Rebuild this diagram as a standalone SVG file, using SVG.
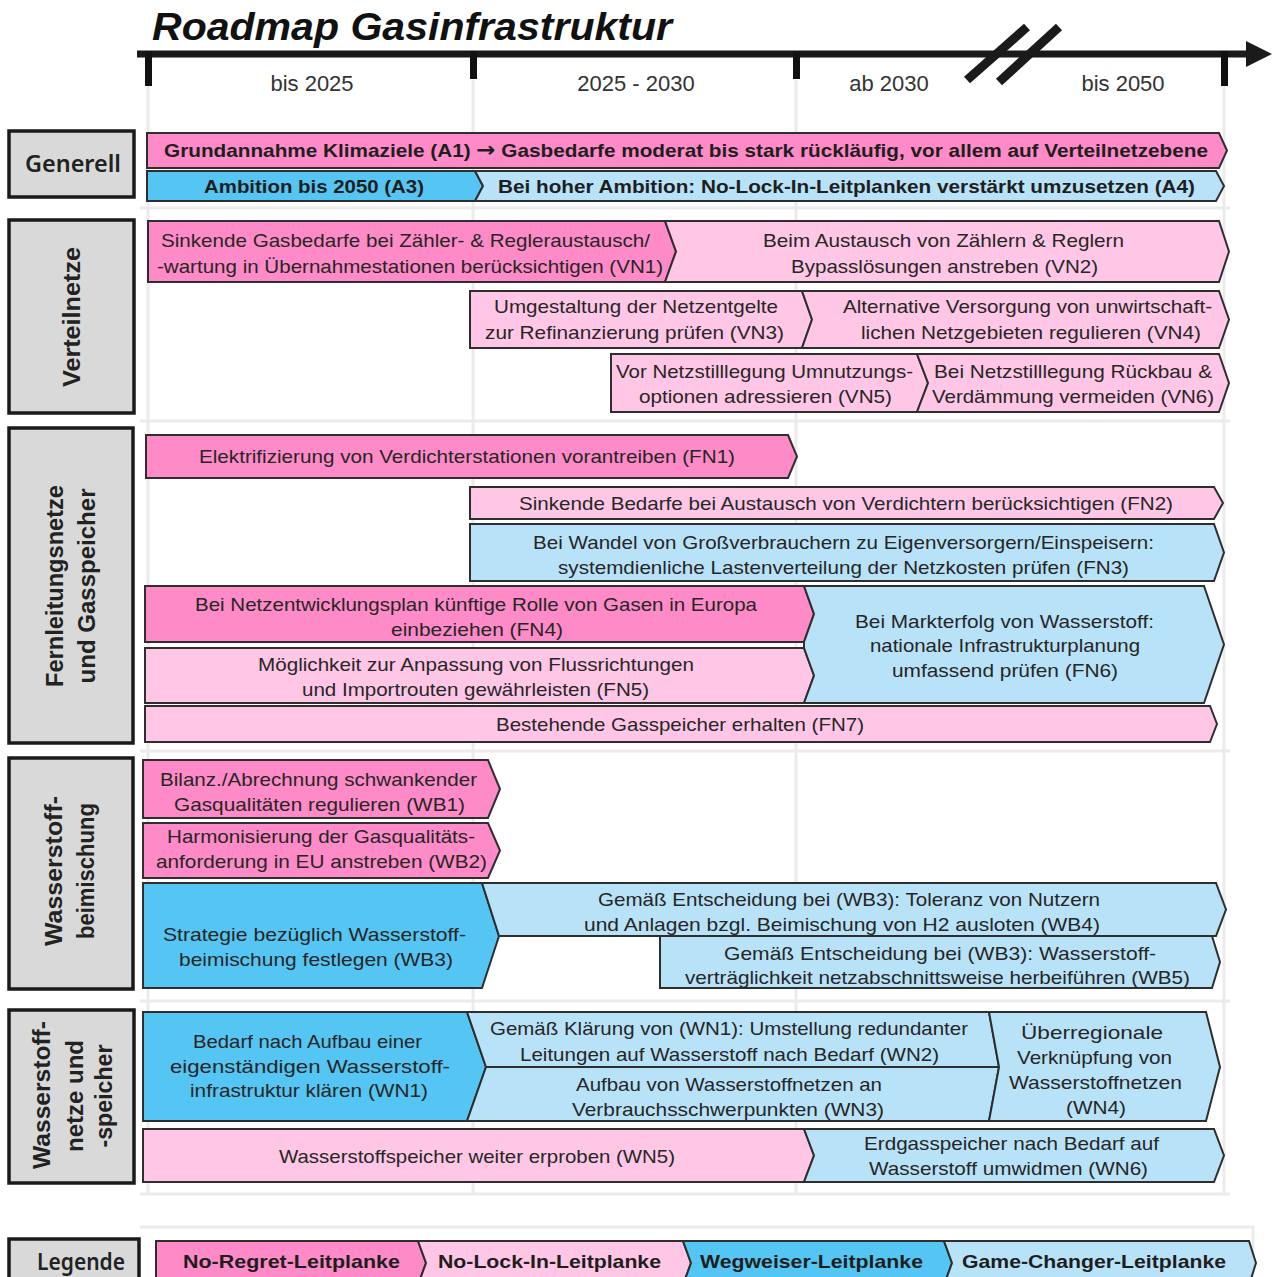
<svg xmlns="http://www.w3.org/2000/svg" width="1272" height="1277" viewBox="0 0 1272 1277">
<style>
.bar{stroke:#2e2e2e;stroke-width:2;stroke-linejoin:miter}
.nr{fill:#FF8AC8}
.nl{fill:#FFC6E6}
.ww{fill:#55C5F3}
.gc{fill:#B8E2F8}
.t{font-family:"Liberation Sans",Arial,sans-serif;font-size:19px;fill:#262626}
.tb{font-family:"Liberation Sans",Arial,sans-serif;font-size:19px;font-weight:bold;fill:#1e1e1e}
.lb{fill:#d9d9d9;stroke:#1a1a1a;stroke-width:3.5}
.lt{font-family:"Liberation Sans",Arial,sans-serif;font-size:24px;font-weight:bold;fill:#222}
.lh{font-family:"Noto Sans","Open Sans",sans-serif;font-size:23px;font-weight:600;fill:#222}
.col{font-family:"Liberation Sans",Arial,sans-serif;font-size:22px;fill:#333}
.grid{stroke:#ebebeb;stroke-width:3;fill:none}
</style>
<rect width="1272" height="1277" fill="#ffffff"/>
<g id="grid">
<path class="grid" d="M148 86V1195M473 80V1195M796 80V1195M1224 86V1195"/>
<path class="grid" d="M140 208H1230M140 421H1230M140 751H1230M140 1001H1230M140 1194H1230"/>
<path class="grid" d="M140 1227H1253V1277"/>
</g>
<g id="timeline">
<text x="152" y="40" font-family="Liberation Sans,Arial,sans-serif" font-size="38" font-weight="bold" font-style="italic" fill="#111" textLength="520" lengthAdjust="spacingAndGlyphs">Roadmap Gasinfrastruktur</text>
<line x1="137" y1="54" x2="1252" y2="54" stroke="#1a1a1a" stroke-width="7"/>
<polygon points="1246,41 1272,54 1246,67" fill="#1a1a1a"/>
<rect x="145" y="51" width="7" height="35" fill="#111"/>
<rect x="470" y="51" width="7" height="28" fill="#111"/>
<rect x="793" y="51" width="7" height="28" fill="#111"/>
<rect x="1221" y="51" width="7" height="35" fill="#111"/>
<line x1="967" y1="80" x2="1027" y2="27" stroke="#1a1a1a" stroke-width="9"/>
<line x1="999" y1="82" x2="1059" y2="27" stroke="#1a1a1a" stroke-width="9"/>
<text class="col" x="312" y="91" text-anchor="middle">bis 2025</text>
<text class="col" x="636" y="91" text-anchor="middle">2025 - 2030</text>
<text class="col" x="889" y="91" text-anchor="middle">ab 2030</text>
<text class="col" x="1123" y="91" text-anchor="middle">bis 2050</text>
</g>
<g id="label-generell"><rect class="lb" x="9" y="131" width="125" height="66"/><text class="lh" x="73" y="172" text-anchor="middle" textLength="96" lengthAdjust="spacingAndGlyphs">Generell</text></g>
<g id="label-verteilnetze"><rect class="lb" x="9" y="220" width="125" height="193"/><text class="lt" transform="translate(80,317) rotate(-90)" text-anchor="middle" textLength="140" lengthAdjust="spacingAndGlyphs">Verteilnetze</text></g>
<g id="label-fernleitung"><rect class="lb" x="9" y="428" width="124" height="315"/><text class="lt" transform="translate(63,586) rotate(-90)" text-anchor="middle" textLength="202" lengthAdjust="spacingAndGlyphs">Fernleitungsnetze</text><text class="lt" transform="translate(95,586) rotate(-90)" text-anchor="middle" textLength="195" lengthAdjust="spacingAndGlyphs">und Gasspeicher</text></g>
<g id="label-beimischung"><rect class="lb" x="9" y="758" width="124" height="231"/><text class="lt" transform="translate(62,871) rotate(-90)" text-anchor="middle" textLength="150" lengthAdjust="spacingAndGlyphs">Wasserstoff-</text><text class="lt" transform="translate(94,871) rotate(-90)" text-anchor="middle" textLength="136" lengthAdjust="spacingAndGlyphs">beimischung</text></g>
<g id="label-h2netze"><rect class="lb" x="9" y="1010" width="125" height="173"/><text class="lt" transform="translate(50,1095) rotate(-90)" text-anchor="middle" textLength="148" lengthAdjust="spacingAndGlyphs">Wasserstoff-</text><text class="lt" transform="translate(83,1096) rotate(-90)" text-anchor="middle" textLength="112" lengthAdjust="spacingAndGlyphs">netze und</text><text class="lt" transform="translate(112,1096) rotate(-90)" text-anchor="middle" textLength="103" lengthAdjust="spacingAndGlyphs">-speicher</text></g>
<g id="A1"><polygon class="bar nr" points="147,133 1219,133 1227,150.5 1219,168 147,168"/><text class="tb" x="164" y="157" textLength="1044" lengthAdjust="spacingAndGlyphs">Grundannahme Klimaziele (A1) <tspan font-family="DejaVu Sans,sans-serif" font-size="21">→</tspan> Gasbedarfe moderat bis stark rückläufig, vor allem auf Verteilnetzebene</text></g>
<g id="A3"><polygon class="bar ww" points="147,171 475,171 483,186 475,201 147,201"/><text class="tb" x="204" y="193" textLength="220" lengthAdjust="spacingAndGlyphs">Ambition bis 2050 (A3)</text></g>
<g id="A4"><polygon class="bar gc" points="475,171 1216,171 1224,186 1216,201 475,201 483,186"/><text class="tb" x="498" y="193" textLength="697" lengthAdjust="spacingAndGlyphs">Bei hoher Ambition: No-Lock-In-Leitplanken verstärkt umzusetzen (A4)</text></g>
<g id="VN1"><polygon class="bar nr" points="148,221 665,221 676,251.5 665,282 148,282"/><text class="t" x="161" y="247" textLength="489" lengthAdjust="spacingAndGlyphs">Sinkende Gasbedarfe bei Zähler- &amp; Regleraustausch/</text><text class="t" x="157" y="273" textLength="506" lengthAdjust="spacingAndGlyphs">-wartung  in Übernahmestationen berücksichtigen (VN1)</text></g>
<g id="VN2"><polygon class="bar nl" points="665,221 1219,221 1229,251.5 1219,282 665,282 676,251.5"/><text class="t" x="763" y="247" textLength="361" lengthAdjust="spacingAndGlyphs">Beim Austausch von Zählern &amp; Reglern</text><text class="t" x="791" y="273" textLength="307" lengthAdjust="spacingAndGlyphs">Bypasslösungen anstreben (VN2)</text></g>
<g id="VN3"><polygon class="bar nl" points="470,291 802,291 812,319.5 802,348 470,348"/><text class="t" x="494" y="313" textLength="284" lengthAdjust="spacingAndGlyphs">Umgestaltung der Netzentgelte</text><text class="t" x="485" y="339" textLength="299" lengthAdjust="spacingAndGlyphs">zur Refinanzierung prüfen (VN3)</text></g>
<g id="VN4"><polygon class="bar nl" points="802,291 1219,291 1229,319.5 1219,348 802,348 812,319.5"/><text class="t" x="843" y="313" textLength="369" lengthAdjust="spacingAndGlyphs">Alternative Versorgung von unwirtschaft-</text><text class="t" x="861" y="339" textLength="340" lengthAdjust="spacingAndGlyphs">lichen Netzgebieten regulieren (VN4)</text></g>
<g id="VN5"><polygon class="bar nl" points="611,354 917,354 928,383 917,412 611,412"/><text class="t" x="616" y="378" textLength="297" lengthAdjust="spacingAndGlyphs">Vor Netzstilllegung Umnutzungs-</text><text class="t" x="639" y="403" textLength="253" lengthAdjust="spacingAndGlyphs">optionen adressieren (VN5)</text></g>
<g id="VN6"><polygon class="bar nl" points="917,354 1219,354 1229,383 1219,412 917,412 928,383"/><text class="t" x="934" y="378" textLength="278" lengthAdjust="spacingAndGlyphs">Bei Netzstilllegung Rückbau &amp;</text><text class="t" x="932" y="403" textLength="282" lengthAdjust="spacingAndGlyphs">Verdämmung vermeiden (VN6)</text></g>
<g id="FN1"><polygon class="bar nr" points="146,435 788,435 797,456.5 788,478 146,478"/><text class="t" x="199" y="463" textLength="536" lengthAdjust="spacingAndGlyphs">Elektrifizierung von Verdichterstationen vorantreiben (FN1)</text></g>
<g id="FN2"><polygon class="bar nl" points="470,487 1214,487 1223,503 1214,519 470,519"/><text class="t" x="519" y="510" textLength="654" lengthAdjust="spacingAndGlyphs">Sinkende Bedarfe bei Austausch von Verdichtern berücksichtigen (FN2)</text></g>
<g id="FN3"><polygon class="bar gc" points="470,524 1214,524 1224,552.5 1214,581 470,581"/><text class="t" x="533" y="549" textLength="621" lengthAdjust="spacingAndGlyphs">Bei Wandel von Großverbrauchern zu Eigenversorgern/Einspeisern:</text><text class="t" x="558" y="574" textLength="571" lengthAdjust="spacingAndGlyphs">systemdienliche Lastenverteilung der Netzkosten prüfen (FN3)</text></g>
<g id="FN4"><polygon class="bar nr" points="145,586 804,586 814,614 804,642 145,642"/><text class="t" x="195" y="611" textLength="562" lengthAdjust="spacingAndGlyphs">Bei Netzentwicklungsplan  künftige Rolle von Gasen in Europa</text><text class="t" x="391" y="636" textLength="172" lengthAdjust="spacingAndGlyphs">einbeziehen (FN4)</text></g>
<g id="FN5"><polygon class="bar nl" points="145,648 804,648 814,675.5 804,703 145,703"/><text class="t" x="258" y="671" textLength="436" lengthAdjust="spacingAndGlyphs">Möglichkeit zur Anpassung von Flussrichtungen</text><text class="t" x="302" y="696" textLength="347" lengthAdjust="spacingAndGlyphs">und Importrouten gewährleisten (FN5)</text></g>
<g id="FN6"><polygon class="bar gc" points="804,586 1204,586 1224,644.5 1204,703 804,703 814,675.5 804,648 804,642 814,614"/><text class="t" x="855" y="628" textLength="299" lengthAdjust="spacingAndGlyphs">Bei Markterfolg von Wasserstoff:</text><text class="t" x="870" y="652" textLength="270" lengthAdjust="spacingAndGlyphs">nationale  Infrastrukturplanung</text><text class="t" x="892" y="677" textLength="226" lengthAdjust="spacingAndGlyphs">umfassend prüfen (FN6)</text></g>
<g id="FN7"><polygon class="bar nl" points="145,706 1210,706 1217,724 1210,742 145,742"/><text class="t" x="496" y="731" textLength="368" lengthAdjust="spacingAndGlyphs">Bestehende Gasspeicher erhalten (FN7)</text></g>
<g id="WB1"><polygon class="bar nr" points="143,760 488,760 500,789 488,818 143,818"/><text class="t" x="160" y="786" textLength="317" lengthAdjust="spacingAndGlyphs">Bilanz./Abrechnung schwankender</text><text class="t" x="174" y="811" textLength="291" lengthAdjust="spacingAndGlyphs">Gasqualitäten regulieren (WB1)</text></g>
<g id="WB2"><polygon class="bar nr" points="143,823 488,823 500,850.5 488,878 143,878"/><text class="t" x="167" y="843" textLength="308" lengthAdjust="spacingAndGlyphs">Harmonisierung der Gasqualitäts-</text><text class="t" x="156" y="868" textLength="331" lengthAdjust="spacingAndGlyphs">anforderung in EU anstreben (WB2)</text></g>
<g id="WB3"><polygon class="bar ww" points="143,883 482,883 499,936 482,988 143,988"/><text class="t" x="163" y="941" textLength="303" lengthAdjust="spacingAndGlyphs">Strategie bezüglich Wasserstoff-</text><text class="t" x="179" y="966" textLength="274" lengthAdjust="spacingAndGlyphs">beimischung festlegen (WB3)</text></g>
<g id="WB4"><polygon class="bar gc" points="482,883 1216,883 1226,909.5 1216,936 499,936"/><text class="t" x="598" y="906" textLength="502" lengthAdjust="spacingAndGlyphs">Gemäß Entscheidung bei (WB3): Toleranz von Nutzern</text><text class="t" x="584" y="931" textLength="516" lengthAdjust="spacingAndGlyphs">und Anlagen bzgl. Beimischung von H2 ausloten (WB4)</text></g>
<g id="WB5"><polygon class="bar gc" points="660,936 1212,936 1220,962 1212,988 660,988"/><text class="t" x="724" y="960" textLength="432" lengthAdjust="spacingAndGlyphs">Gemäß Entscheidung bei (WB3): Wasserstoff-</text><text class="t" x="685" y="984" textLength="505" lengthAdjust="spacingAndGlyphs">verträglichkeit netzabschnittsweise herbeiführen (WB5)</text></g>
<g id="WN1"><polygon class="bar ww" points="143,1012 467,1012 486,1067 467,1121 143,1121"/><text class="t" x="193" y="1048" textLength="229" lengthAdjust="spacingAndGlyphs">Bedarf nach Aufbau einer</text><text class="t" x="170" y="1073" textLength="280" lengthAdjust="spacingAndGlyphs">eigenständigen Wasserstoff-</text><text class="t" x="190" y="1097" textLength="238" lengthAdjust="spacingAndGlyphs">infrastruktur  klären (WN1)</text></g>
<g id="WN2"><polygon class="bar gc" points="467,1012 989,1012 999,1067 486,1067"/><text class="t" x="490" y="1035" textLength="478" lengthAdjust="spacingAndGlyphs">Gemäß Klärung von (WN1): Umstellung redundanter</text><text class="t" x="520" y="1061" textLength="419" lengthAdjust="spacingAndGlyphs">Leitungen auf Wasserstoff nach Bedarf (WN2)</text></g>
<g id="WN3"><polygon class="bar gc" points="486,1067 999,1067 989,1121 467,1121"/><text class="t" x="576" y="1091" textLength="306" lengthAdjust="spacingAndGlyphs">Aufbau von Wasserstoffnetzen an</text><text class="t" x="572" y="1116" textLength="312" lengthAdjust="spacingAndGlyphs">Verbrauchsschwerpunkten (WN3)</text></g>
<g id="WN4"><polygon class="bar gc" points="989,1012 1206,1012 1220,1067 1206,1121 989,1121 999,1067"/><text class="t" x="1021" y="1039" textLength="142" lengthAdjust="spacingAndGlyphs">Überregionale</text><text class="t" x="1017" y="1064" textLength="155" lengthAdjust="spacingAndGlyphs">Verknüpfung von</text><text class="t" x="1009" y="1089" textLength="173" lengthAdjust="spacingAndGlyphs">Wasserstoffnetzen</text><text class="t" x="1066" y="1114" textLength="60" lengthAdjust="spacingAndGlyphs">(WN4)</text></g>
<g id="WN5"><polygon class="bar nl" points="143,1129 804,1129 814,1155.5 804,1182 143,1182"/><text class="t" x="279" y="1163" textLength="396" lengthAdjust="spacingAndGlyphs">Wasserstoffspeicher weiter erproben (WN5)</text></g>
<g id="WN6"><polygon class="bar gc" points="804,1129 1214,1129 1224,1155.5 1214,1182 804,1182 814,1155.5"/><text class="t" x="864" y="1150" textLength="295" lengthAdjust="spacingAndGlyphs">Erdgasspeicher nach Bedarf auf</text><text class="t" x="869" y="1175" textLength="279" lengthAdjust="spacingAndGlyphs">Wasserstoff umwidmen (WN6)</text></g>
<g id="legend">
<rect class="lb" x="9" y="1239" width="130" height="52"/><text class="lh" x="81" y="1270" text-anchor="middle" textLength="88" lengthAdjust="spacingAndGlyphs">Legende</text>
<polygon class="bar nr" points="156,1241 418,1241 426,1263 418,1285 156,1285"/><text class="tb" x="183" y="1268" font-size="20" textLength="217" lengthAdjust="spacingAndGlyphs">No-Regret-Leitplanke</text>
<polygon class="bar nl" points="418,1241 683,1241 691,1263 683,1285 418,1285 426,1263"/><text class="tb" x="438" y="1268" font-size="20" textLength="223" lengthAdjust="spacingAndGlyphs">No-Lock-In-Leitplanke</text>
<polygon class="bar ww" points="683,1241 944,1241 952,1263 944,1285 683,1285 691,1263"/><text class="tb" x="700" y="1268" font-size="20" textLength="223" lengthAdjust="spacingAndGlyphs">Wegweiser-Leitplanke</text>
<polygon class="bar gc" points="944,1241 1249,1241 1256,1263 1249,1285 944,1285 952,1263"/><text class="tb" x="962" y="1268" font-size="20" textLength="264" lengthAdjust="spacingAndGlyphs">Game-Changer-Leitplanke</text>
</g>
<g id="connectors"/>
</svg>
